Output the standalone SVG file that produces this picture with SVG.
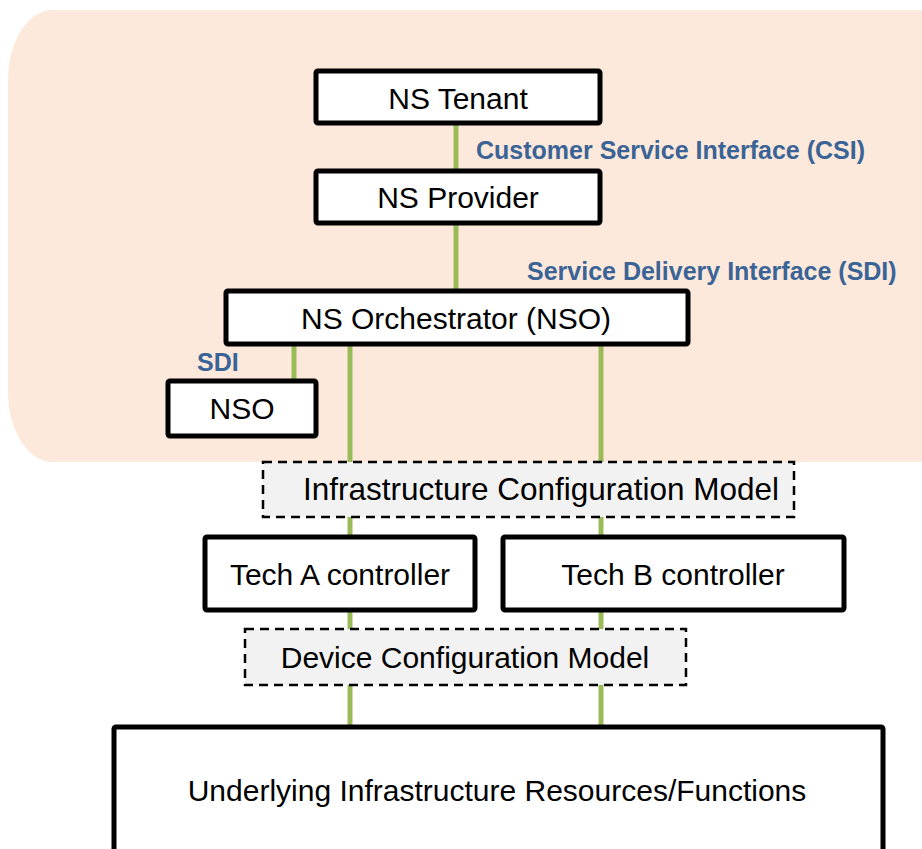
<svg xmlns="http://www.w3.org/2000/svg" width="922" height="849" viewBox="0 0 922 849">
<style>
.box{fill:#fff;stroke:#000;stroke-width:5}
.dash{fill:#f2f2f2;stroke:#000;stroke-width:2.5;stroke-dasharray:9 6}
.t{font-family:"Liberation Sans",Arial,sans-serif;font-size:30px;fill:#000;text-anchor:middle}
.lbl{font-family:"Liberation Sans",Arial,sans-serif;font-size:25px;font-weight:bold;fill:#3a6496}
.ln{stroke:#9bbb59;stroke-width:5;fill:none}
</style>
<rect x="8" y="10" width="960" height="452" rx="45" ry="70" fill="#fde9db"/>
<g id="connectors">
<line class="ln" x1="456" y1="122" x2="456" y2="172"/>
<line class="ln" x1="456" y1="222" x2="456" y2="292"/>
<line class="ln" x1="294" y1="342" x2="294" y2="380"/>
<line class="ln" x1="350" y1="342" x2="350" y2="728"/>
<line class="ln" x1="601" y1="342" x2="601" y2="728"/>
</g>
<g id="tenant"><rect class="box" x="316" y="71" width="284" height="52" rx="2"/><text class="t" x="458" y="109">NS Tenant</text></g>
<text class="lbl" x="476" y="159">Customer Service Interface (CSI)</text>
<g id="provider"><rect class="box" x="316" y="171" width="284" height="52" rx="2"/><text class="t" x="458" y="208">NS Provider</text></g>
<text class="lbl" x="527" y="280">Service Delivery Interface (SDI)</text>
<g id="orchestrator"><rect class="box" x="226" y="291" width="462" height="53" rx="2"/><text class="t" x="456" y="329">NS Orchestrator (NSO)</text></g>
<text class="lbl" x="197" y="371">SDI</text>
<g id="nso"><rect class="box" x="168" y="381" width="148" height="55" rx="2"/><text class="t" x="242" y="419">NSO</text></g>
<g id="infra-model"><rect class="dash" x="263" y="462" width="531" height="55"/><text class="t" x="541" y="500" style="font-size:31.5px">Infrastructure Configuration Model</text></g>
<g id="tech-a"><rect class="box" x="205" y="537" width="270" height="73" rx="2"/><text class="t" x="340" y="585">Tech A controller</text></g>
<g id="tech-b"><rect class="box" x="503" y="537" width="341" height="73" rx="2"/><text class="t" x="673" y="585">Tech B controller</text></g>
<g id="device-model"><rect class="dash" x="245" y="629" width="441" height="56"/><text class="t" x="465" y="668">Device Configuration Model</text></g>
<g id="underlying"><rect class="box" x="114" y="727" width="769" height="130" rx="2"/><text class="t" x="497" y="801">Underlying Infrastructure Resources/Functions</text></g>
</svg>
